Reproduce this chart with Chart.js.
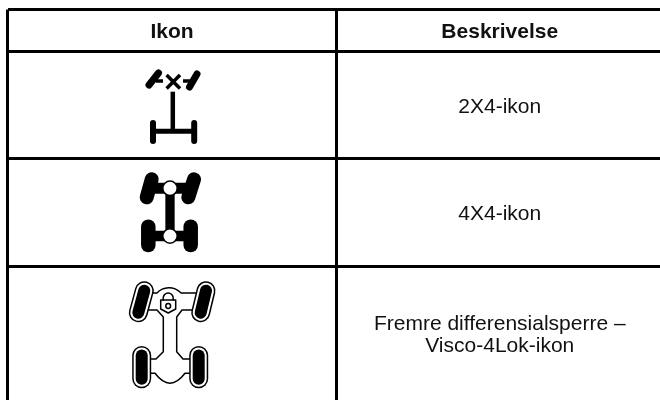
<!DOCTYPE html>
<html>
<head>
<meta charset="utf-8">
<style>
    html, body { margin: 0; padding: 0; background: #fff; }
    canvas { display: block; }
</style>
<script src="https://cdn.jsdelivr.net/npm/chart.js@4"></script>
</head>
<body>
<canvas id="tableChart" width="660" height="400"></canvas>
<script>
// Table content
const columnHeaders = ['Ikon', 'Beskrivelse'];
const rowDescriptions = [
    ['2X4-ikon'],
    ['4X4-ikon'],
    ['Fremre differensialsperre –', 'Visco-4Lok-ikon']
];

const LINE_COLOR = '#000';
const TEXT_COLOR = '#111';
const FONT_NAME = '"Liberation Sans", Arial, sans-serif';

// Rules of the table, in pixels from the top left rule
const columnEdges = [0, 329, 652.5];
const rowEdges = [0, 42, 149, 257, 390.5];

function line(ctx, x1, y1, x2, y2, width) {
    ctx.lineWidth = width;
    ctx.beginPath();
    ctx.moveTo(x1, y1);
    ctx.lineTo(x2, y2);
    ctx.stroke();
}

// Every icon is drawn on its own canvas, with 0,0 on the middle of the cell
function iconCanvas(drawIcon) {
    let canvas = document.createElement('canvas');
    canvas.width = 120;
    canvas.height = 130;
    let ctx = canvas.getContext('2d');
    ctx.translate(60, 65);
    ctx.strokeStyle = LINE_COLOR;
    ctx.fillStyle = LINE_COLOR;
    ctx.lineCap = 'round';
    ctx.lineJoin = 'round';
    drawIcon(ctx);
    return canvas;
}

function draw2x4Icon(ctx) {
    line(ctx, -23, -20, -13.5, -32, 7);
    line(ctx, 17.5, -18, 25, -31, 7);
    ctx.lineCap = 'butt';
    line(ctx, -16, -24, -9, -24, 3.5);
    line(ctx, 11, -24, 18, -24, 3.5);
    line(ctx, -5.4, -30, 8, -16.6, 3.5);
    line(ctx, 8, -30, -5.4, -16.6, 3.5);
    line(ctx, 0.8, -13.3, 0.8, 26, 4.5);
    line(ctx, -19, 26.3, 22.2, 26.3, 5);
    ctx.lineCap = 'round';
    line(ctx, -19, 18, -19, 36, 6);
    line(ctx, 22.2, 18, 22.2, 36, 6);
}

function draw4x4Icon(ctx) {
    ctx.translate(0, -0.5);
    line(ctx, -20.3, -33.2, -25.3, -15.2, 14);
    line(ctx, 22, -33.2, 16.3, -15.2, 14);
    line(ctx, -23.7, 14.2, -23.7, 32.5, 14.5);
    line(ctx, 18.7, 14.2, 18.7, 32.5, 14.5);
    ctx.lineCap = 'butt';
    line(ctx, -22, -24.2, 18, -24.2, 11);
    line(ctx, -22, 23.5, 18, 23.5, 10.5);
    line(ctx, -2, -24, -2, 23.5, 9.3);
    [-24.2, 23.5].forEach(y => {
        ctx.beginPath();
        ctx.arc(-2, y, 7.2, 0, Math.PI * 2);
        ctx.fillStyle = '#fff';
        ctx.fill();
        ctx.lineWidth = 1.5;
        ctx.stroke();
    });
}

function drawLockIcon(ctx) {
    ctx.translate(0, 1);
    let wheels = [
        [-27.7, -43.3, -33.7, -21.3],
        [34, -43.3, 28.7, -21.3],
        [-30.3, 21.5, -30.3, 44.8],
        [26.7, 21.5, 26.7, 44.8]
    ];

    // Body outline
    ctx.lineWidth = 1.5;
    ctx.beginPath();
    ctx.moveTo(-24, -41);
    ctx.lineTo(-15, -41);
    ctx.arc(-3, -29.7, 16.5, 3.896, 5.529);
    ctx.lineTo(25, -41);
    ctx.moveTo(-24, -24);
    ctx.lineTo(-15, -24);
    ctx.lineTo(-8.7, -17);
    ctx.lineTo(-8.7, 17.7);
    ctx.lineTo(-16, 25);
    ctx.lineTo(-24, 25);
    ctx.moveTo(25, -24);
    ctx.lineTo(10, -24);
    ctx.lineTo(4.7, -17);
    ctx.lineTo(4.7, 17.7);
    ctx.lineTo(11, 25);
    ctx.lineTo(19, 25);
    ctx.moveTo(-24, 39.3);
    ctx.lineTo(-17, 39.3);
    ctx.quadraticCurveTo(-2, 59, 13, 39.3);
    ctx.lineTo(19, 39.3);
    ctx.stroke();

    // Wheels: white capsule with a thin rim, black tread inside
    wheels.forEach(w => {
        line(ctx, w[0], w[1], w[2], w[3], 19);
        ctx.strokeStyle = '#fff';
        line(ctx, w[0], w[1], w[2], w[3], 16);
        ctx.strokeStyle = LINE_COLOR;
        line(ctx, w[0], w[1], w[2], w[3], 12);
    });

    // Padlock
    ctx.lineWidth = 1.5;
    ctx.beginPath();
    ctx.arc(-3.8, -36, 5, Math.PI, 0);
    ctx.lineTo(1.2, -34);
    ctx.moveTo(-8.8, -36);
    ctx.lineTo(-8.8, -34);
    ctx.stroke();
    ctx.beginPath();
    ctx.moveTo(-11.3, -34);
    ctx.lineTo(3.7, -34);
    ctx.lineTo(3.7, -25);
    ctx.lineTo(-3.8, -21);
    ctx.lineTo(-11.3, -25);
    ctx.closePath();
    ctx.stroke();
    ctx.beginPath();
    ctx.arc(-3.8, -28, 2.4, 0, Math.PI * 2);
    ctx.stroke();
}

// Writes the header and description cells through the scales
const cellTextPlugin = {
    id: 'cellText',
    afterDatasetsDraw(chart) {
        let ctx = chart.ctx;
        let x = chart.scales.x;
        let y = chart.scales.y;
        let columnMiddle = i => x.getPixelForValue((columnEdges[i] + columnEdges[i + 1]) / 2) + (i === 1 ? 1.5 : 0);
        let rowMiddle = i => y.getPixelForValue((rowEdges[i] + rowEdges[i + 1]) / 2) + 2;

        ctx.save();
        ctx.fillStyle = TEXT_COLOR;
        ctx.textAlign = 'center';
        ctx.textBaseline = 'middle';

        ctx.font = 'bold 21px ' + FONT_NAME;
        columnHeaders.forEach((text, i) => {
            ctx.fillText(text, columnMiddle(i), rowMiddle(0));
        });

        ctx.font = '21px ' + FONT_NAME;
        rowDescriptions.forEach((lines, i) => {
            let top = rowMiddle(i + 1) - (lines.length - 1) * 11;
            lines.forEach((text, n) => {
                ctx.fillText(text, columnMiddle(1), top + n * 22);
            });
        });
        ctx.restore();
    }
};

function initializeChart() {
    let icons = [iconCanvas(draw2x4Icon), iconCanvas(draw4x4Icon), iconCanvas(drawLockIcon)];
    let iconPoints = rowDescriptions.map((lines, i) => ({
        x: (columnEdges[0] + columnEdges[1]) / 2,
        y: Math.floor((rowEdges[i + 1] + rowEdges[i + 2]) / 2) + 0.5
    }));

    new Chart(document.getElementById('tableChart'), {
        type: 'scatter',
        data: {
            datasets: [{
                label: columnHeaders[0],
                data: iconPoints,
                pointStyle: icons,
                pointRadius: 10,
                clip: false
            }]
        },
        options: {
            responsive: false,
            animation: false,
            layout: { autoPadding: false, padding: { left: 7.5, top: 9.5, right: 0, bottom: 0 } },
            plugins: {
                legend: { display: false },
                tooltip: { enabled: false }
            },
            scales: {
                x: {
                    type: 'linear',
                    min: columnEdges[0],
                    max: columnEdges[2],
                    afterBuildTicks: axis => {
                        axis.ticks = columnEdges.slice(0, 2).map(value => ({ value }));
                    },
                    ticks: { display: false },
                    border: { display: false },
                    grid: { color: LINE_COLOR, lineWidth: 3, drawTicks: false }
                },
                y: {
                    type: 'linear',
                    reverse: true,
                    min: rowEdges[0],
                    max: rowEdges[4],
                    afterBuildTicks: axis => {
                        axis.ticks = rowEdges.slice(0, 4).map(value => ({ value }));
                    },
                    ticks: { display: false },
                    border: { display: false },
                    grid: { color: LINE_COLOR, lineWidth: 3, drawTicks: false }
                }
            }
        },
        plugins: [cellTextPlugin]
    });
}

initializeChart();
</script>
</body>
</html>
